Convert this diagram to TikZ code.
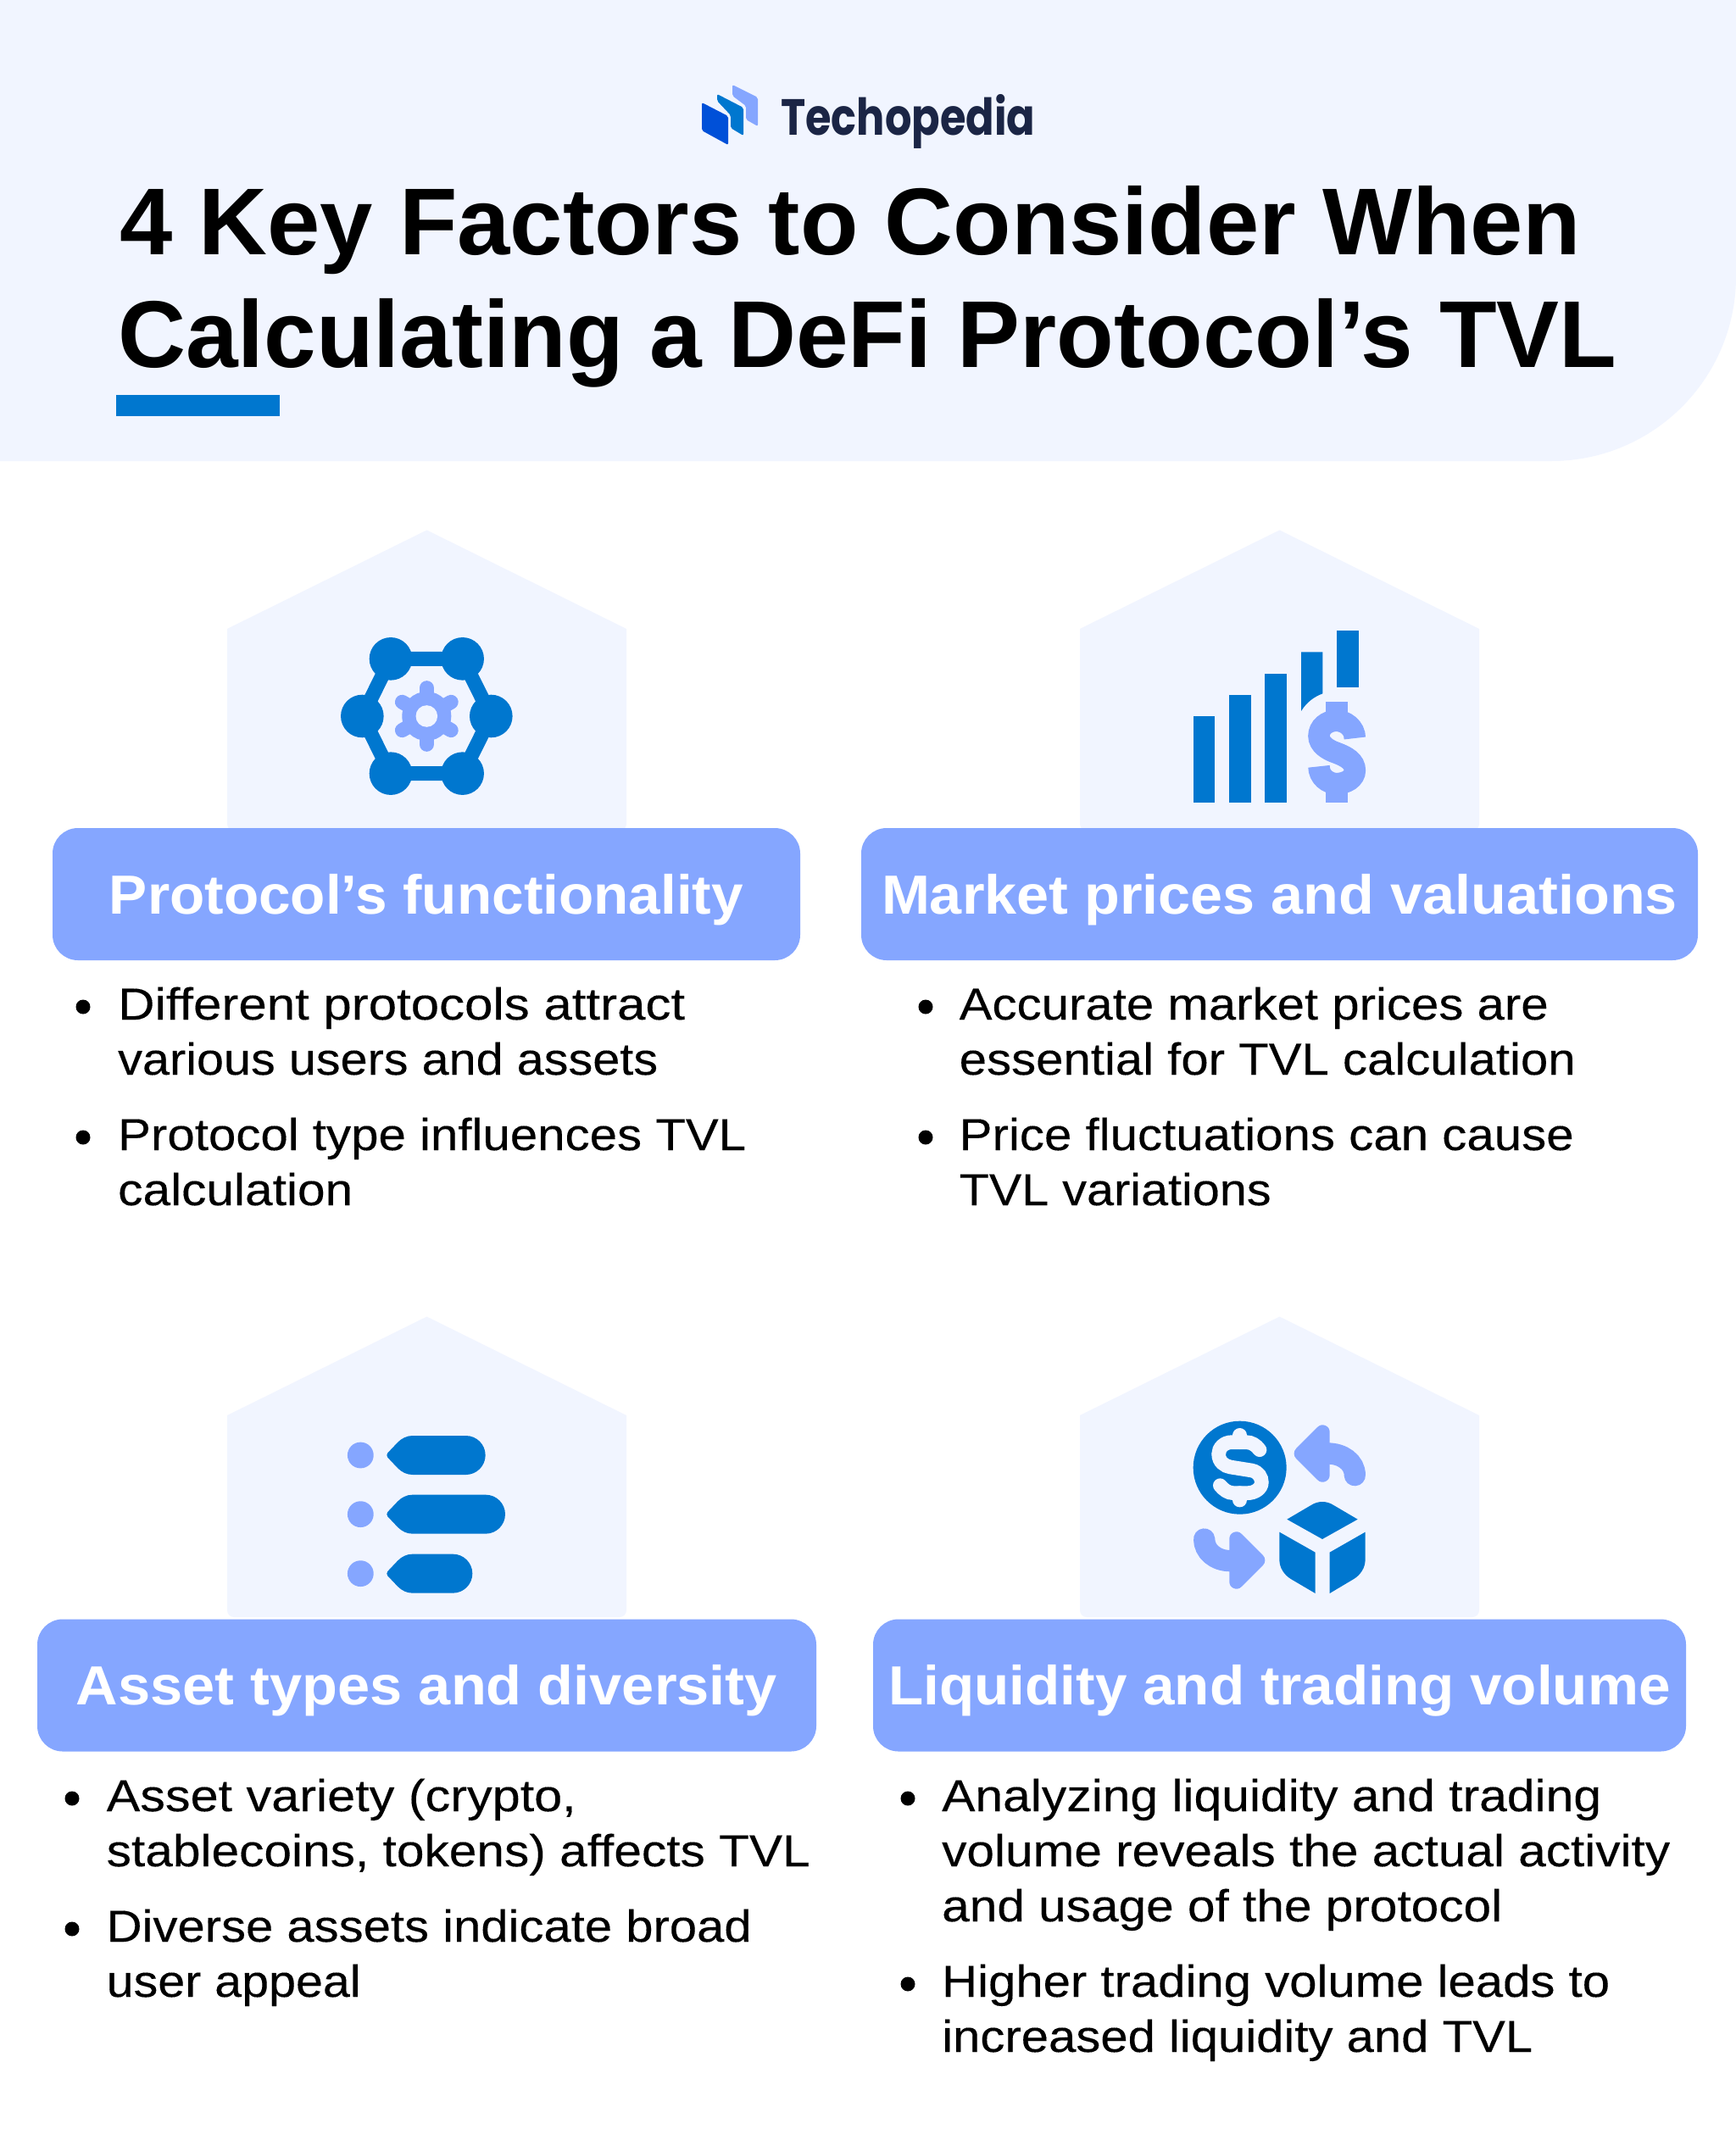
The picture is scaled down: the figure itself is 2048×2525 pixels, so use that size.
\documentclass[tikz,border=0pt]{standalone}
\usepackage{fontspec}
\usepackage{graphicx}
\setmainfont{Liberation Sans}
\newfontfamily\bodyfont[FakeBold=0.18]{Liberation Sans}
\newfontfamily\logofont{Poppins}
\definecolor{pale}{HTML}{F1F5FF}
\definecolor{midblue}{HTML}{0077CF}
\definecolor{lightblue}{HTML}{85A6FF}
\definecolor{deepblue}{HTML}{0050D8}
\definecolor{ink}{HTML}{1B2545}
\newcommand{\fitw}[2]{\resizebox{#1pt}{\height}{#2}}
\tikzset{
  x=1pt,y=-1pt,
  titleline/.style={anchor=base west,inner sep=0pt,text=black,font=\fontsize{112}{120}\selectfont\bfseries},
  bodyline/.style={anchor=base west,inner sep=0pt,text=black,font=\fontsize{53}{60}\selectfont\bodyfont},
  labelbox/.style={fill=lightblue,rounded corners=30pt,inner sep=0pt,minimum height=156pt,text=white,
     text height=60pt,text depth=14pt,font=\fontsize{65}{70}\selectfont\bfseries},
  iconspace/.style={x=0.3333pt,y=-0.3333pt},
}
\newcommand{\bodyl}[5]{\node[bodyline] (#1) at (#2-2,#3) {\fitw{\numexpr#4+3\relax}{#5}};}
\newcommand{\bdot}[2]{\fill[black] (#1,#2) circle[radius=8.5pt];}
\newcommand{\house}[2]{\fill[pale] (#1-235.5,#2-100) -- (#1-235.5,#2-238) -- (#1,#2-354.5) -- (#1+235.5,#2-238) -- (#1+235.5,#2-100) [rounded corners=8pt] -- (#1+235.5,#2) -- (#1-235.5,#2) -- cycle;}
\begin{document}
\begin{tikzpicture}
\useasboundingbox (0,0) rectangle (2048,2525);
\fill[white] (0,0) rectangle (2048,2525);
% header
\fill[pale] (0,0) -- (2048,0) -- (2048,326) arc[start angle=0,end angle=90,radius=218pt,y radius=-218pt] -- (0,544) -- cycle;
% logo
\fill[lightblue,rounded corners=2pt] (864,100) -- (894,115) -- (894,149) -- (880,141) -- (880,125) -- (864,113) -- cycle;
\fill[midblue,rounded corners=2pt] (846,111) -- (877,127) -- (877,160) -- (862,151) -- (862,136) -- (846,119) -- cycle;
\fill[deepblue,rounded corners=2pt] (828,121) -- (859,137) -- (859,171) -- (828,154) -- cycle;
\node[anchor=base west,inner sep=0pt,text=ink,font=\fontsize{60}{64}\selectfont\logofont\bfseries] (logotext) at (921,159) {\fitw{300}{Techopedia}};
% title
\node[titleline] (t1) at (141,300) {\fitw{1724}{4 Key Factors to Consider When}};
\node[titleline] (t2) at (139,433) {\fitw{1768}{Calculating a DeFi Protocol’s TVL}};
\fill[midblue] (137,466) rectangle (330,491);
% houses
\house{503.5}{980}
\house{1509.5}{980}
\house{503.5}{1908}
\house{1509.5}{1908}
% label boxes
\node[labelbox,minimum width=882pt] (b1) at (503,1055) {\fitw{748}{Protocol’s functionality}};
\node[labelbox,minimum width=987pt] (b2) at (1509.5,1055) {\fitw{939}{Market prices and valuations}};
\node[labelbox,minimum width=919pt] (b3) at (503.5,1988.5) {\fitw{827}{Asset types and diversity}};
\node[labelbox,minimum width=959pt] (b4) at (1509.5,1988.5) {\fitw{922}{Liquidity and trading volume}};
% card 1
\bdot{98}{1188}\bdot{98}{1342}
\bodyl{a1}{141}{1203}{666}{Different protocols attract}
\bodyl{a2}{141}{1268}{634}{various users and assets}
\bodyl{a3}{141}{1357}{738}{Protocol type influences TVL}
\bodyl{a4}{141}{1422}{274}{calculation}
% card 2
\bdot{1092}{1188}\bdot{1092}{1342}
\bodyl{c1}{1133.5}{1203}{692}{Accurate market prices are}
\bodyl{c2}{1133.5}{1268}{724}{essential for TVL calculation}
\bodyl{c3}{1133.5}{1357}{722}{Price fluctuations can cause}
\bodyl{c4}{1133.5}{1422}{365}{TVL variations}
% card 3
\bdot{85}{2122}\bdot{85}{2276}
\bodyl{d1}{127.5}{2137}{551}{Asset variety (crypto,}
\bodyl{d2}{127.5}{2202}{827}{stablecoins, tokens) affects TVL}
\bodyl{d3}{127.5}{2291}{758}{Diverse assets indicate broad}
\bodyl{d4}{127.5}{2356}{297}{user appeal}
% card 4
\bdot{1071}{2122}\bdot{1071}{2341}
\bodyl{e1}{1113}{2137}{775}{Analyzing liquidity and trading}
\bodyl{e2}{1113}{2202}{856}{volume reveals the actual activity}
\bodyl{e3}{1113}{2267}{658}{and usage of the protocol}
\bodyl{e4}{1113}{2356}{785}{Higher trading volume leads to}
\bodyl{e5}{1113}{2421}{694}{increased liquidity and TVL}
% icon 1
\begin{scope}[shift={(360,700)},iconspace]
\draw[midblue,line width=17pt] (303,232) -- (557,232) -- (658,435) -- (557,638) -- (303,638) -- (202,435) -- cycle;
\foreach \px/\py in {303/232,557/232,202/435,658/435,303/638,557/638}
  \fill[midblue] (\px,\py) circle[radius=25.3pt];
\fill[lightblue] (430,435) circle[radius=29pt];
\foreach \a in {90,30,-30,-90,150,210}
  \draw[lightblue,line width=17pt,line cap=round] (430,435) -- ++(\a:100);
\fill[pale] (430,435) circle[radius=12.8pt];
\end{scope}
% icon 2
\begin{scope}[shift={(1370,700)},iconspace]
\fill[midblue] (114,436) rectangle (190,740);
\fill[midblue] (240,360) rectangle (317,740);
\fill[midblue] (367,284) rectangle (444,740);
\fill[midblue] (495,208) -- (571,208) -- (571,355) .. controls (540,367) and (515,385) .. (495,417) -- cycle;
\fill[midblue] (621,132) rectangle (698,334);
\fill[lightblue] (583,385) rectangle (660,425);
\fill[lightblue] (583,700) rectangle (660,740);
\draw[lightblue,line width=25.5pt] (685,513) .. controls (685,475) and (650,451) .. (620,451)
  .. controls (585,451) and (558,475) .. (558,505) .. controls (558,535) and (590,555) .. (620,565)
  .. controls (655,578) and (685,595) .. (685,627) .. controls (685,655) and (655,674) .. (620,674)
  .. controls (590,674) and (558,650) .. (558,613);
\end{scope}
% icon 3
\begin{scope}[shift={(380,1660)},iconspace]
\foreach \cy/\rx in {171/578,380/648,590/532}{
  \fill[lightblue] (136,\cy) circle[radius=15.4pt];
  \fill[midblue] (232,\cy-8) -- (268,\cy-46) .. controls (282,\cy-60) and (300,\cy-69) .. (320,\cy-69)
    -- (\rx-69,\cy-69) .. controls (\rx-31,\cy-69) and (\rx,\cy-38) .. (\rx,\cy)
    .. controls (\rx,\cy+38) and (\rx-31,\cy+69) .. (\rx-69,\cy+69)
    -- (320,\cy+69) .. controls (300,\cy+69) and (282,\cy+60) .. (268,\cy+46)
    -- (232,\cy+8) .. controls (228,\cy+3) and (228,\cy-3) .. (232,\cy-8) -- cycle;
}
\end{scope}
% icon 4
\begin{scope}[shift={(1370,1650)},iconspace]
\fill[midblue] (278,245) circle[radius=55pt];
\draw[pale,line width=16.7pt,line cap=round] (348,182) .. controls (335,165) and (320,155) .. (300,155) -- (250,155)
  .. controls (222,155) and (203,175) .. (203,197) .. controls (203,225) and (225,240) .. (245,243) -- (320,255)
  .. controls (345,260) and (355,280) .. (355,297) .. controls (355,320) and (330,335) .. (305,335) -- (255,335)
  .. controls (235,335) and (220,322) .. (208,308);
\draw[pale,line width=16.7pt,line cap=round] (278,130) -- (278,155);
\draw[pale,line width=16.7pt,line cap=round] (278,360) -- (278,335);
% arrows
\filldraw[lightblue,line width=16.7pt,line join=round] (495,195) -- (571,119) -- (571,271) -- cycle;
\draw[lightblue,line width=25.3pt,line cap=round] (590,195) .. controls (640,195) and (685,225) .. (685,272);
\filldraw[lightblue,line width=16.7pt,line join=round] (342,573) -- (266,497) -- (266,649) -- cycle;
\draw[lightblue,line width=25.3pt,line cap=round] (245,575) .. controls (190,575) and (152,540) .. (152,498);
% cube
\fill[midblue] (445,428) -- (530,378) .. controls (555,362) and (585,362) .. (610,378) -- (695,428) -- (570,498) -- cycle;
\fill[midblue] (418,473) -- (545,545) -- (545,690) -- (460,640) .. controls (435,625) and (418,600) .. (418,570) -- cycle;
\fill[midblue] (722,473) -- (596,545) -- (596,690) -- (680,640) .. controls (705,625) and (722,600) .. (722,570) -- cycle;
\end{scope}
\end{tikzpicture}
\end{document}
